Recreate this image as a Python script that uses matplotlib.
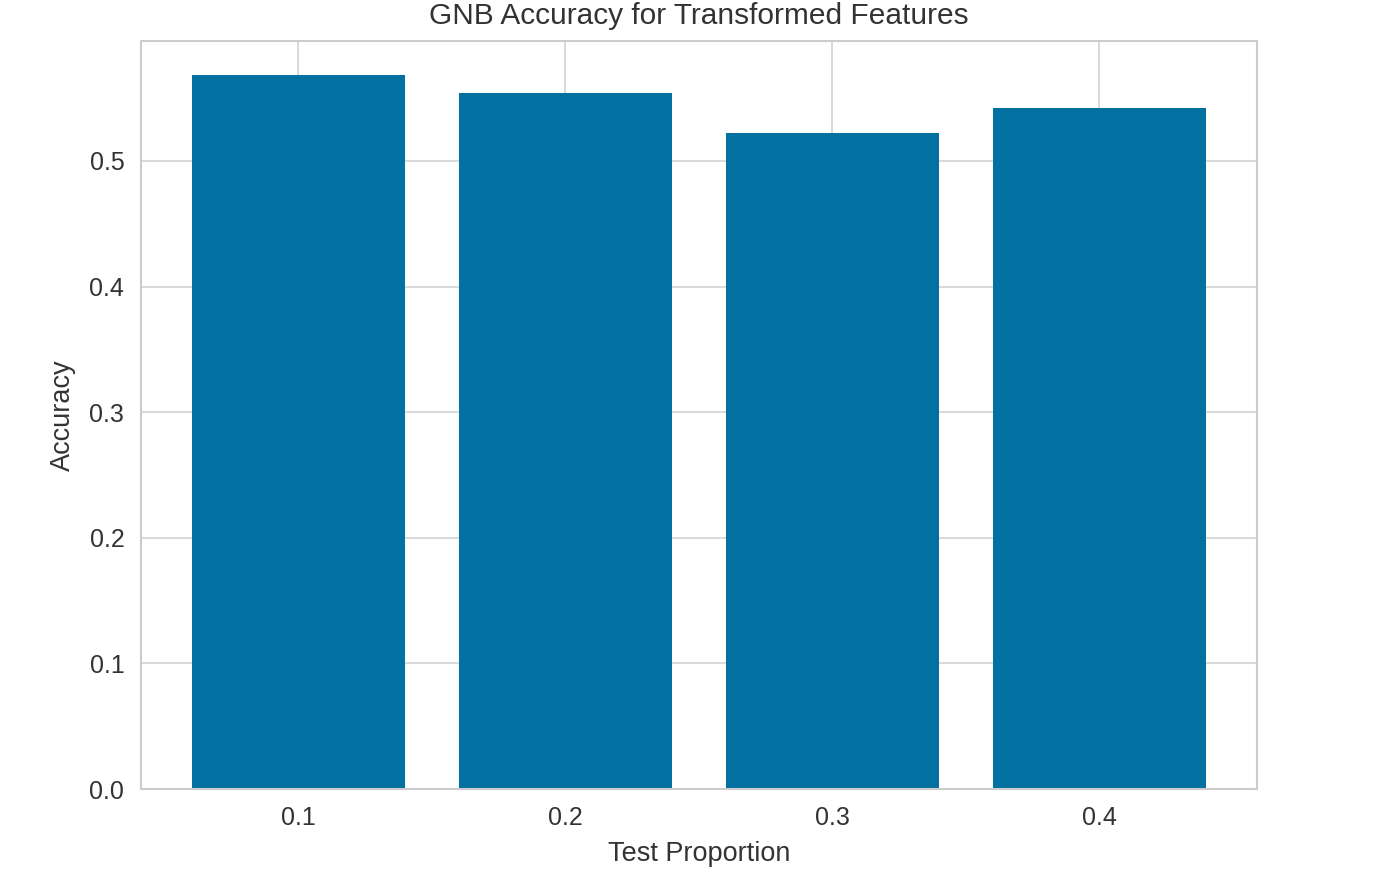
import numpy as np
import matplotlib.pyplot as plt

# test proportion vs accuracy (GNB, transformed features)
test_sizes = [0.1, 0.2, 0.3, 0.4]
accuracy = [0.5685, 0.5545, 0.5225, 0.5425]
tick_labels = ["0.1", "0.2", "0.3", "0.4"]

plt.rcParams['font.family'] = ['Liberation Sans', 'DejaVu Sans']
plt.rcParams['text.color'] = '#333333'
plt.rcParams['axes.labelcolor'] = '#333333'
plt.rcParams['xtick.color'] = '#333333'
plt.rcParams['ytick.color'] = '#333333'

fig = plt.figure(figsize=(14, 8.8), dpi=100)
ax = fig.add_axes([0.1007, 0.1034, 0.797, 0.85])

ax.bar(test_sizes, accuracy, width=0.08, color='#0270a0', zorder=2)
ax.set_ylim(0, 0.5955)

ax.set_xticks(test_sizes)
ax.set_xticklabels(tick_labels)
ax.set_yticks(np.arange(0, 0.51, 0.1))
ax.tick_params(labelsize=18, length=0, pad=12)

ax.grid(True, color='#d5d5d5', linewidth=1.3, zorder=0)
ax.set_axisbelow(True)
for s in ax.spines.values():
    s.set_color('#cccccc')
    s.set_linewidth(1.5)

ax.set_title("GNB Accuracy for Transformed Features", fontsize=21.5, pad=12)
ax.set_xlabel("Test Proportion", fontsize=19.5, labelpad=8)
ax.set_ylabel("Accuracy", fontsize=19.5, labelpad=10)

plt.savefig("out.png")
